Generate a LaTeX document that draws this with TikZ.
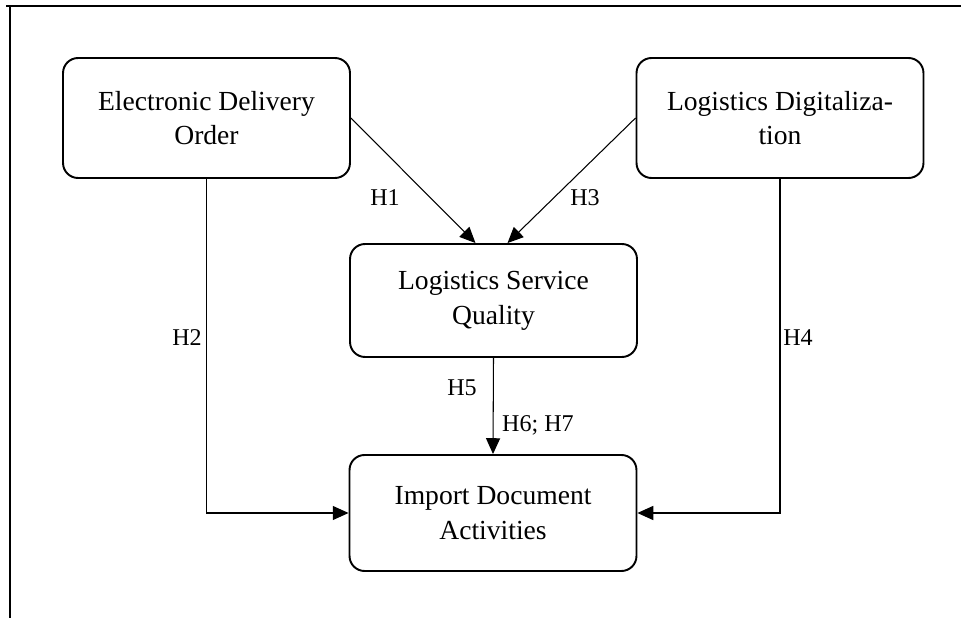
\documentclass[tikz,border=0pt]{standalone}
\usepackage{fontspec}
\setmainfont{Liberation Serif}
\usepackage{tikz}
\usetikzlibrary{arrows.meta, calc}
\tikzset{
	every node/.style={
		font=\fontsize{15.7}{19.8}\selectfont
	},
	construct/.style={
		shape=rectangle,
		minimum width=5.74cm,
		minimum height=2.4cm,
		align=center,
		rounded corners=0.3cm,
		line width=1.1pt,
		draw,
	},
	hyp/.style={
		font=\fontsize{13.7}{16}\selectfont,
		inner sep=1pt
	},
	myarrow/.style={-{Triangle[length=9pt,width=8pt]}, line width=0.6pt},
}

\begin{document}
\begin{tikzpicture}
	[x=0.02cm, y=-0.02cm]
	\useasboundingbox (0,0) rectangle (961,618);
	% frame round the model
	\draw[line width=1.2pt] (6,6) -- (961,6);
	\draw[line width=1.2pt] (10,6) -- (10,618);
	
	\node[construct] (EDO) at (206.5,118) {Electronic Delivery\\Order};
	\node[construct] (LD) at (780,118) {Logistics Digitaliza-\\tion};
	\node[construct, minimum height=2.26cm] (LSQ) at (493.5,300.5) {Logistics Service\\Quality};
	\node[construct, minimum height=2.32cm] (IDA) at (493,513) {Import Document\\Activities};
	
	\draw[myarrow] (EDO.east) -- ([xshift=-0.36cm]LSQ.north);
	\draw[myarrow] (LD.west) -- ([xshift=0.28cm]LSQ.north);
	\draw[myarrow] (EDO.south) -- (EDO.south |- IDA.west) -- (IDA.west);
	\draw[myarrow] (LD.south) -- (LD.south |- IDA.east) -- (IDA.east);
	\draw[myarrow] (LSQ.south) -- (IDA.north);
	
	\node[hyp] (h1) at (385,198) {H1};
	\node[hyp] (h3) at (585,198) {H3};
	\node[hyp] (h2) at (187,338) {H2};
	\node[hyp] (h4) at (798,338) {H4};
	\node[hyp] (h5) at (462,388) {H5};
	\node[hyp] (h67) at (538,425) {H6; H7};
\end{tikzpicture}
\end{document}
